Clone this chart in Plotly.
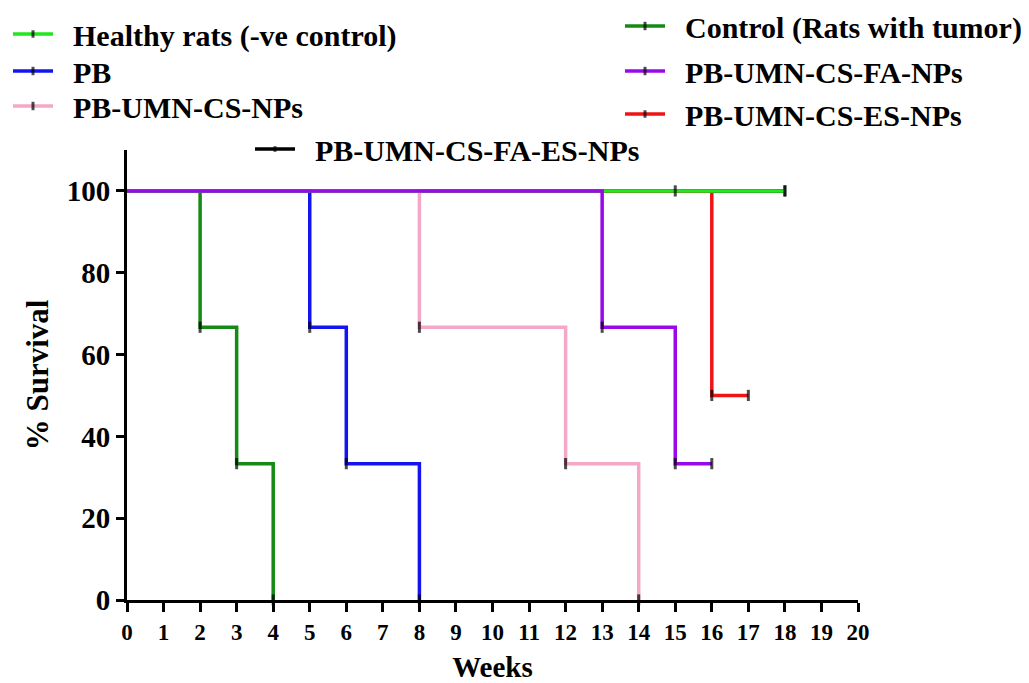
import plotly.graph_objects as go

# ---- data (weeks, % survival) ----
names = [
    "Healthy rats (-ve control)",
    "PB",
    "PB-UMN-CS-NPs",
    "Control (Rats with tumor)",
    "PB-UMN-CS-FA-NPs",
    "PB-UMN-CS-ES-NPs",
    "PB-UMN-CS-FA-ES-NPs",
]
healthy_x = [0, 15, 18]
healthy_y = [100, 100, 100]
healthy_mark = [0, 1, 1]

pb_x = [0, 5, 6, 8]
pb_y = [100, 66.67, 33.33, 0]
pb_mark = [0, 1, 1, 1]

csnp_x = [0, 8, 12, 14]
csnp_y = [100, 66.67, 33.33, 0]
csnp_mark = [0, 1, 1, 1]

control_x = [0, 2, 3, 4]
control_y = [100, 66.67, 33.33, 0]
control_mark = [0, 1, 1, 1]

fa_x = [0, 13, 15, 16]
fa_y = [100, 66.67, 33.33, 33.33]
fa_mark = [0, 1, 1, 1]

es_x = [0, 16, 17]
es_y = [100, 50, 50]
es_mark = [0, 1, 1]

faes_x = [0, 18]
faes_y = [100, 100]
faes_mark = [0, 1]

colors = {
    "Healthy rats (-ve control)": "#22e61e",
    "PB": "#1414f0",
    "PB-UMN-CS-NPs": "#f4a7c6",
    "Control (Rats with tumor)": "#158a15",
    "PB-UMN-CS-FA-NPs": "#9a08ea",
    "PB-UMN-CS-ES-NPs": "#f01414",
    "PB-UMN-CS-FA-ES-NPs": "#000000",
}

series = {
    "Healthy rats (-ve control)": (healthy_x, healthy_y, healthy_mark, "legend"),
    "PB": (pb_x, pb_y, pb_mark, "legend2"),
    "PB-UMN-CS-NPs": (csnp_x, csnp_y, csnp_mark, "legend3"),
    "Control (Rats with tumor)": (control_x, control_y, control_mark, "legend4"),
    "PB-UMN-CS-FA-NPs": (fa_x, fa_y, fa_mark, "legend5"),
    "PB-UMN-CS-ES-NPs": (es_x, es_y, es_mark, "legend6"),
    "PB-UMN-CS-FA-ES-NPs": (faes_x, faes_y, faes_mark, "legend7"),
}

draw_order = [
    "PB-UMN-CS-FA-ES-NPs",
    "PB-UMN-CS-ES-NPs",
    "PB-UMN-CS-NPs",
    "PB",
    "Control (Rats with tumor)",
    "Healthy rats (-ve control)",
    "PB-UMN-CS-FA-NPs",
]

fig = go.Figure()
for nm in draw_order:
    xs, ys, mk, lg = series[nm]
    fig.add_trace(go.Scatter(
        x=xs, y=ys, name="\u00a0\u00a0<b>" + nm + "</b>", mode="lines+markers", legend=lg,
        line=dict(color=colors[nm], width=3.5, shape="hv"),
        marker=dict(symbol="line-ns", size=[8 * m for m in mk], color="black",
                    line=dict(color="black", width=3)),
        cliponaxis=False,
    ))

FONT = "Liberation Serif"
OFF = 8  # page body margin
W, H = 1029 - OFF, 683 - OFF
L, T = 127 - OFF, 150 - OFF
R = W - (858 - OFF)
B = H - (600 - OFF)
pw, ph = W - L - R, H - T - B

def px(xp):
    return (xp - OFF - L) / pw

def py(yp):
    return (H - B - (yp - OFF)) / ph

leg_font = dict(family=FONT, size=30, color="black")
def leg(xp, yp):
    return dict(x=px(xp), y=py(yp), xanchor="left", yanchor="middle",
                bgcolor="rgba(0,0,0,0)", font=leg_font, itemwidth=40,
                borderwidth=0, tracegroupgap=0)

fig.update_layout(
    width=W, height=H,
    font=dict(family=FONT, color="black"),
    margin=dict(l=L, r=R, t=T, b=B, autoexpand=False),
    paper_bgcolor="white", plot_bgcolor="white",
    showlegend=True,
    legend=leg(8, 34),
    legend2=leg(8, 71),
    legend3=leg(8, 106),
    legend4=leg(620, 26),
    legend5=leg(620, 71),
    legend6=leg(620, 114),
    legend7=leg(250, 149),
    xaxis=dict(
        range=[0, 20], tickmode="linear", tick0=0, dtick=1,
        showline=True, linecolor="black", linewidth=3,
        ticks="outside", ticklen=9, tickwidth=3, tickcolor="black",
        showgrid=False, zeroline=False,
        tickfont=dict(family=FONT, size=23, color="black", weight="bold"),
        title=dict(text="<b>Weeks</b>", font=dict(family=FONT, size=29, color="black"), standoff=14),
        automargin=False,
    ),
    yaxis=dict(
        range=[0, 110], tickvals=[0, 20, 40, 60, 80, 100],
        showline=True, linecolor="black", linewidth=3,
        ticks="outside", ticklen=8, tickwidth=3, tickcolor="black",
        showgrid=False, zeroline=False,
        tickfont=dict(family=FONT, size=29, color="black", weight="bold"),
        title=dict(text="<b>% Survival</b>", font=dict(family=FONT, size=31, color="black"), standoff=9),
        automargin=False,
    ),
)

fig.write_html("out.html")
